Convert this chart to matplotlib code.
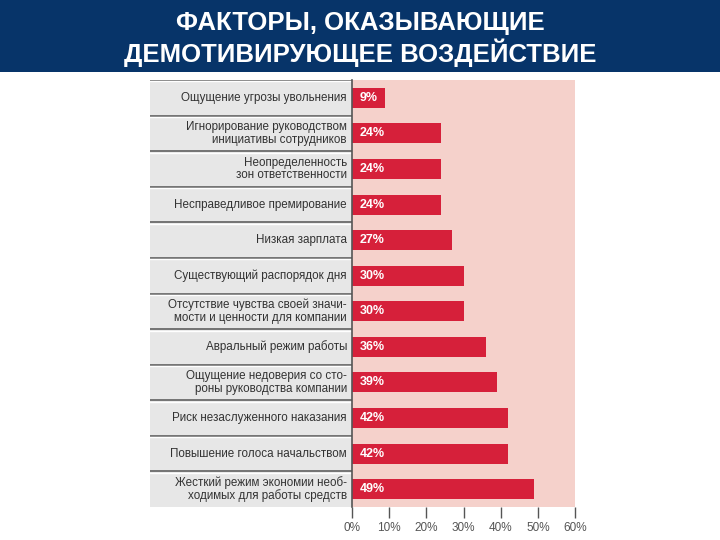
import matplotlib.pyplot as plt
from matplotlib.patches import Rectangle

# data, top to bottom
factors = [
    "Ощущение угрозы увольнения",
    "Игнорирование руководством\nинициативы сотрудников",
    "Неопределенность\nзон ответственности",
    "Несправедливое премирование",
    "Низкая зарплата",
    "Существующий распорядок дня",
    "Отсутствие чувства своей значи-\nмости и ценности для компании",
    "Авральный режим работы",
    "Ощущение недоверия со сто-\nроны руководства компании",
    "Риск незаслуженного наказания",
    "Повышение голоса начальством",
    "Жесткий режим экономии необ-\nходимых для работы средств",
]
percent = [9, 24, 24, 24, 27, 30, 30, 36, 39, 42, 42, 49]
ticks = [0, 10, 20, 30, 40, 50, 60]
tick_labels = ["0%", "10%", "20%", "30%", "40%", "50%", "60%"]

plt.rcParams['font.family'] = ['Liberation Sans', 'DejaVu Sans']

fig = plt.figure(figsize=(7.2, 5.4), dpi=100)
fig.patch.set_facecolor("white")

# title bar
fig.patches.append(Rectangle((0, 1 - 72 / 540), 1, 72 / 540, transform=fig.transFigure,
                             facecolor="#073469", edgecolor="none", zorder=0))
fig.text(0.5, 1 - 39 / 540, "ФАКТОРЫ, ОКАЗЫВАЮЩИЕ\nДЕМОТИВИРУЮЩЕЕ ВОЗДЕЙСТВИЕ",
         ha="center", va="center", color="white", fontsize=18.5, fontweight="bold",
         family=['Liberation Sans Narrow', 'Liberation Sans'], linespacing=1.12)

n = len(factors)
ys = list(range(n))

# label panel
lax = fig.add_axes([150 / 720, 1 - 507 / 540, 202 / 720, 427 / 540])
lax.set_xlim(0, 1)
lax.set_ylim(n - 0.5, -0.5)
lax.axis("off")
for i, (y, lab) in enumerate(zip(ys, factors)):
    lax.add_patch(Rectangle((0, y - 0.5), 1, 1, facecolor="#e7e7e7", edgecolor="none"))
    lax.plot([0, 1], [y - 0.5, y - 0.5], color="#6a6a6a", lw=1.3)
    lax.plot([0, 1], [y - 0.5 + 0.04, y - 0.5 + 0.04], color="white", lw=1.0)
    lax.text(0.975, y, lab, ha="right", va="center", fontsize=8.4, color="#333333",
             linespacing=1.05)

# bar chart
ax = fig.add_axes([352 / 720, 1 - 507 / 540, 223 / 720, 427 / 540])
ax.set_facecolor("#f5d1cb")
ax.barh(ys, percent, height=0.56, color="#d6203a", edgecolor="none")
for y, v in zip(ys, percent):
    ax.text(2.0, y, f"{v}%", ha="left", va="center", color="white",
            fontsize=9, fontweight="bold")
ax.set_xlim(0, 60)
ax.set_ylim(n - 0.5, -0.5)
ax.set_yticks([])
ax.set_xticks(ticks)
ax.set_xticklabels(tick_labels, fontsize=8.5, color="#555555")
ax.tick_params(axis="x", length=8, width=1, color="#555555", direction="out", pad=3)
for s in ["top", "right", "bottom"]:
    ax.spines[s].set_visible(False)
ax.spines["left"].set_color("#555555")
ax.spines["left"].set_linewidth(1.2)

fig.savefig("out.png", dpi=100)
